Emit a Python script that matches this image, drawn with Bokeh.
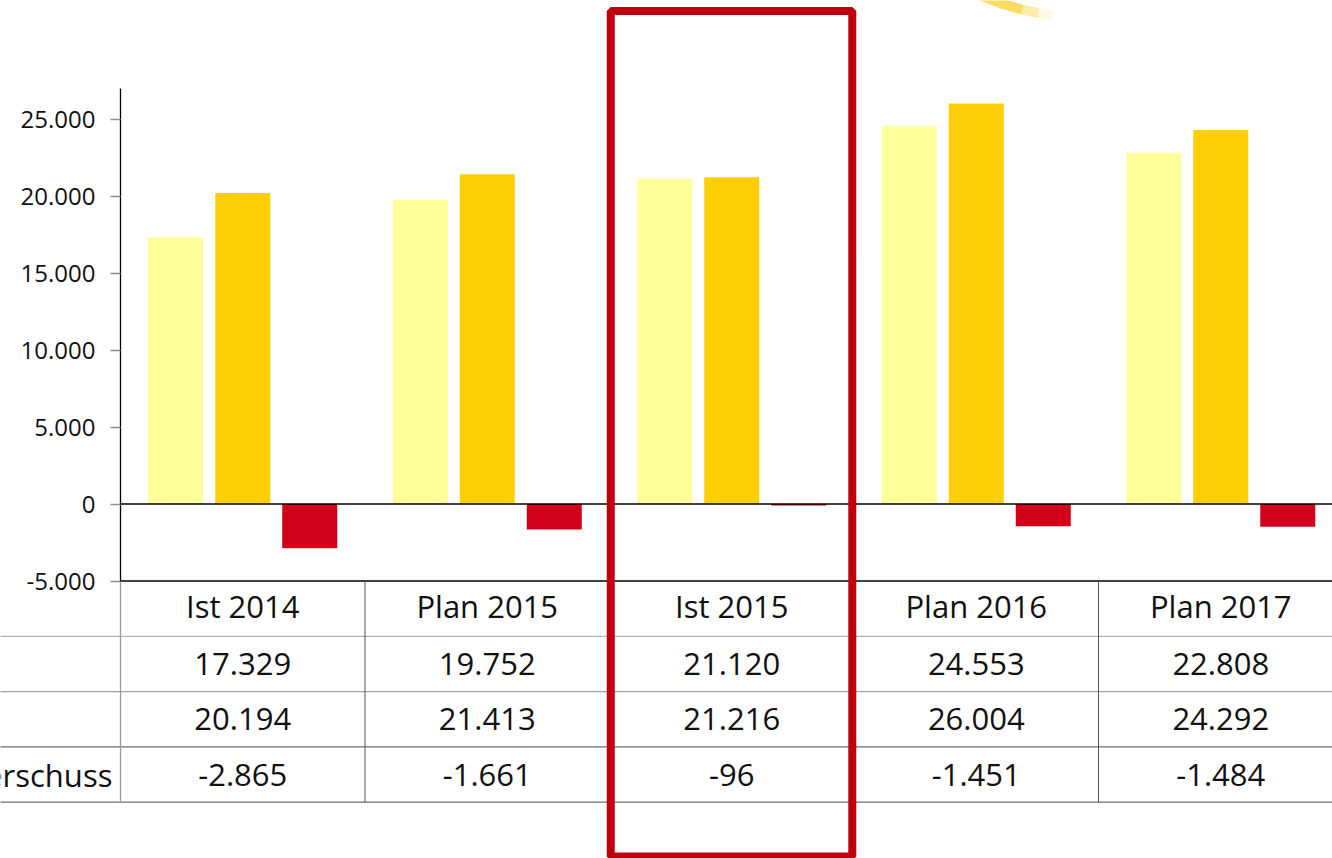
import math
from bokeh.plotting import figure
from bokeh.models import Range1d, LinearAxis, FixedTicker, CustomJSTickFormatter
from bokeh.core.properties import value
from bokeh.embed import file_html
from bokeh.resources import INLINE

# ---------------- data ----------------
categories = ["Ist 2014", "Plan 2015", "Ist 2015", "Plan 2016", "Plan 2017"]
ertraege = [17329, 19752, 21120, 24553, 22808]
aufwendungen = [20194, 21413, 21216, 26004, 24292]
ueberschuss = [-2865, -1661, -96, -1451, -1484]
last_row_label = "Überschuss"
y_ticks = [-5000, 0, 5000, 10000, 15000, 20000, 25000]
highlighted = "Ist 2015"

# ---------------- styling ----------------
FONT = "Open Sans"
COL_LIGHT = "#FFFF99"
COL_GOLD = "#FDCF04"
COL_RED = "#D3001A"
BOX_RED = "#C0000B"


def fmt(v):
    s = f"{abs(v):,}".replace(",", ".")
    return ("-" if v < 0 else "") + s


p = figure(width=1332, height=858, output_backend="svg", toolbar_location=None,
           x_range=Range1d(-0.4908, 4.957), y_range=Range1d(-23019, 32695),
           x_axis_location=None, y_axis_location=None, min_border=0,
           outline_line_color=None, background_fill_color="white",
           border_fill_color="white")
p.grid.visible = False

n = len(categories)
xs = list(range(n))

# ---------------- bars ----------------
offsets = [-0.274, 0.0, 0.274]
bar_w = 0.225
series = [(ertraege, COL_LIGHT), (aufwendungen, COL_GOLD), (ueberschuss, COL_RED)]
for k, (vals, col) in enumerate(series):
    p.vbar(x=[i + 0.5 + offsets[k] for i in xs], top=vals, bottom=0, width=bar_w,
           fill_color=col, line_color=None)

# zero line
p.segment(x0=[0], y0=[0], x1=[n], y1=[0], line_color="black", line_width=1.3)

# ---------------- table ----------------
row_h = 3590
table_top = y_ticks[0]
bounds = [table_top - r * row_h for r in range(5)]
centers = [(bounds[r] + bounds[r + 1]) / 2 for r in range(4)]

# top line of table (black)
p.segment(x0=[0], y0=[table_top], x1=[n], y1=[table_top], line_color="black", line_width=1.3)
# row lines
row_cols = ["#b0b0b0", "#a0a0a0", "#6e6e6e", "#6e6e6e"]
p.segment(x0=[-0.6] * 4, y0=bounds[1:], x1=[n] * 4, y1=bounds[1:],
          line_color=row_cols, line_width=1.3)
# vertical lines
p.segment(x0=[0], y0=[table_top], x1=[0], y1=[bounds[-1]], line_color="#9a9a9a", line_width=1.3)
p.segment(x0=xs[1:], y0=[table_top] * (n - 1), x1=xs[1:], y1=[bounds[-1]] * (n - 1),
          line_color="#555555", line_width=1.0)

tx = [i + 0.5 for i in xs]
text_kw = dict(text_align="center", text_baseline="middle", text_font=value(FONT),
               text_font_size="31px", text_color="#111111")
p.text(x=tx, y=[centers[0] + 150] * n, text=categories, **text_kw)
p.text(x=tx, y=[centers[1]] * n, text=[fmt(v) for v in ertraege], **text_kw)
p.text(x=tx, y=[centers[2]] * n, text=[fmt(v) for v in aufwendungen], **text_kw)
p.text(x=tx, y=[centers[3]] * n, text=[fmt(v) for v in ueberschuss], **text_kw)
p.text(x=[-0.033], y=[centers[3]], text=[last_row_label], text_align="right",
       text_baseline="middle", text_font=value(FONT), text_font_size="31px",
       text_color="#111111")

# ---------------- y axis ----------------
ax = LinearAxis(fixed_location=0, ticker=FixedTicker(ticks=y_ticks), bounds=(-5000, 27000),
                formatter=CustomJSTickFormatter(code="""
                    const s = Math.abs(tick).toFixed(0).replace(/\\B(?=(\\d{3})+(?!\\d))/g, ".");
                    return (tick < 0 ? "-" : "") + s;
                """))
ax.axis_line_color = "black"
ax.axis_line_width = 1.3
ax.major_tick_out = 10
ax.major_tick_in = 0
ax.major_tick_line_color = "#8c8c8c"
ax.major_tick_line_width = 1.3
ax.minor_tick_line_color = None
ax.major_label_text_font = FONT
ax.major_label_text_font_size = "24px"
ax.major_label_text_color = "#111111"
ax.major_label_standoff = 15
p.add_layout(ax, "left")

# ---------------- highlight box ----------------
hi = categories.index(highlighted)
p.quad(left=[hi + 0.005], right=[hi + 0.993], top=[32013], bottom=[-22890],
       fill_color=None, line_color=BOX_RED, line_width=8)

# ---------------- decorative swoosh (logo fragment) ----------------
cx, cy = 3.955, 49123
segs = [(-125, -104, 0.75, "#F9D02E"), (-104, -100.5, 0.5, "#FAD850"), (-100.5, -97.5, 0.25, "#FCE68C")]
for a0, a1, al, c in segs:
    p.arc(x=[cx], y=[cy], radius=270, radius_units="screen",
          start_angle=math.radians(a0), end_angle=math.radians(a1),
          line_color=c, line_alpha=al, line_width=10)

open("out.html", "w").write(file_html(p, INLINE))
